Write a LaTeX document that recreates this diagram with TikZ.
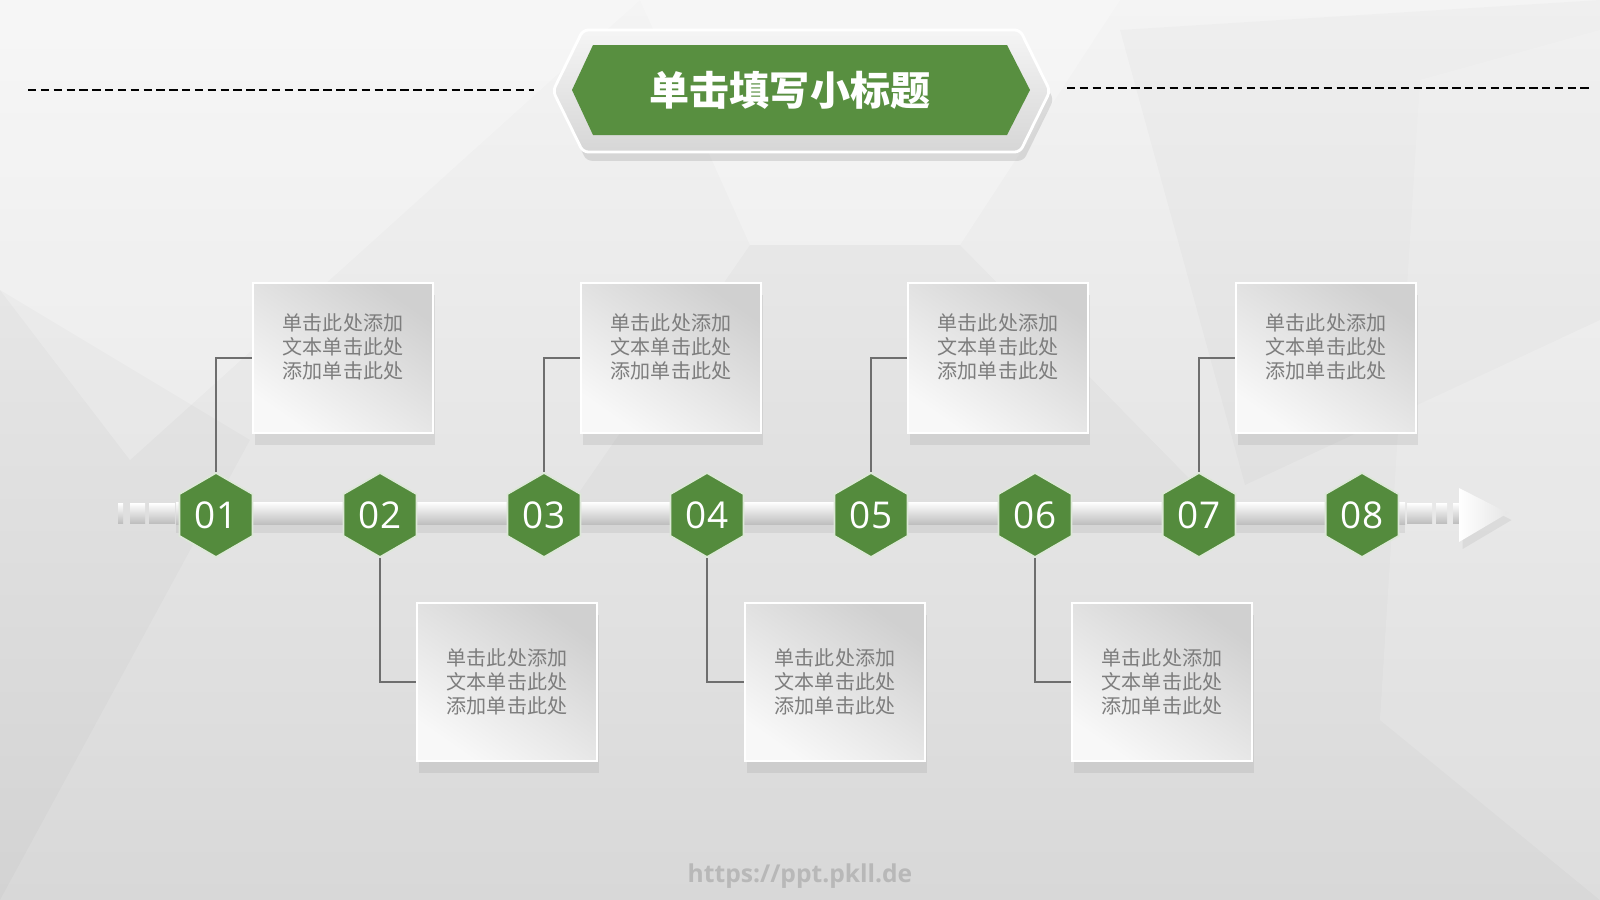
\documentclass[tikz,border=0pt]{standalone}
\usepackage{fontspec}
\setmainfont{Open Sans}
\newfontfamily\cjk{Noto Sans CJK SC}
\usetikzlibrary{shapes.geometric,shadows,positioning}
\definecolor{hexgreen}{RGB}{84,139,61}
\definecolor{titlegreen}{RGB}{88,143,64}
\definecolor{boxdark}{RGB}{208,208,208}
\definecolor{boxlight}{RGB}{248,248,248}
\definecolor{bgtop}{RGB}{244,244,244}
\definecolor{bgbot}{RGB}{216,216,216}
\definecolor{txtgray}{RGB}{125,125,125}
\definecolor{markgray}{RGB}{184,184,184}
\definecolor{linegray}{RGB}{110,110,110}

\tikzset{
  hexnode/.style={regular polygon, regular polygon sides=6, shape border rotate=30,
    minimum size=0.84cm, inner sep=0pt, fill=hexgreen, draw=white!80!hexgreen,
    line width=0.5pt, text=white, font=\fontsize{10.5}{12}\selectfont},
  infobox/.style={draw=white, line width=0.5pt, minimum width=1.8cm, inner sep=0pt,
    top color=boxdark, bottom color=boxlight, shading angle=-35,
    drop shadow={opacity=0.16, shadow xshift=0.5pt, shadow yshift=-3.5pt}},
  topbox/.style={infobox, minimum height=1.5cm},
  lowbox/.style={infobox, minimum height=1.58cm},
  infotext/.style={align=center, text=txtgray, font=\cjk\fontsize{5.7}{6.9}\selectfont},
  connline/.style={draw=linegray, line width=0.3pt},
  dashline/.style={draw=black, line width=0.55pt, dash pattern=on 2.4pt off 1.25pt},
  barpart/.style={top color=white, middle color=white, bottom color=black!25},
  facetlight/.style={fill=white, opacity=0.25},
  facetdark/.style={fill=black, opacity=0.02}
}

\begin{document}
\begin{tikzpicture}[x=0.01cm, y=-0.01cm]
\useasboundingbox (0,0) rectangle (1600,900);
\shade[top color=bgtop, bottom color=bgbot] (0,0) rectangle (1600,900);

% background facets
\fill[facetlight] (0,0) -- (640,0) -- (130,460) -- (0,290) -- cycle;
\fill[facetlight] (640,0) -- (1120,0) -- (960,245) -- (750,245) -- cycle;
\fill[facetdark] (1120,30) -- (1600,0) -- (1600,320) -- (1245,485) -- cycle;
\fill[facetdark] (0,290) -- (250,440) -- (0,900) -- cycle;
\fill[facetdark] (750,245) -- (960,245) -- (1230,520) -- (560,520) -- cycle;
\fill[facetlight, opacity=0.15] (1420,80) -- (1600,30) -- (1600,900) -- (1380,720) -- cycle;

% title
\coordinate (dl1) at (28,90);
\coordinate (dl2) at (534,90);
\coordinate (dr1) at (1067,88);
\coordinate (dr2) at (1592,88);
\draw[dashline] (dl1) -- (dl2);
\draw[dashline] (dr1) -- (dr2);
\shade[top color=white!96!black, bottom color=black!16, draw=white, line width=0.8pt,
  rounded corners=1.5pt, drop shadow={opacity=0.22, shadow xshift=1pt, shadow yshift=-2.5pt}]
  (553,91) -- (583,30) -- (1020,30) -- (1050,91) -- (1020,152) -- (583,152) -- cycle;
\fill[titlegreen] (572,90) -- (593,45) -- (1007,45) -- (1030,90) -- (1007,135) -- (593,135) -- cycle;
\node[text=white, font=\cjk\bfseries\fontsize{11.4}{13}\selectfont] (title) at (790,90) {单击填写小标题};

% timeline bar
\shade[barpart, drop shadow={opacity=0.14, shadow xshift=0pt, shadow yshift=-2.5pt}]
  (176,502) rectangle (1405,524);
\shade[barpart] (118,503) rectangle (123,523);
\shade[barpart] (130,503) rectangle (145,523);
\shade[barpart] (149,503) rectangle (175,523);
\shade[barpart] (1407,503) rectangle (1432,523);
\shade[barpart] (1436,503) rectangle (1447,523);
\shade[barpart] (1453,503) rectangle (1459,523);
\shade[left color=white, right color=black!10, drop shadow={opacity=0.12, shadow xshift=1pt, shadow yshift=-2pt}]
  (1459,488) -- (1508,513) -- (1459,542) -- cycle;

% boxes
\node[topbox] (b1) at (343,358) {};
\node[lowbox] (b2) at (507,682) {};
\node[topbox] (b3) at (671,358) {};
\node[lowbox] (b4) at (835,682) {};
\node[topbox] (b5) at (998,358) {};
\node[lowbox] (b6) at (1162,682) {};
\node[topbox] (b7) at (1326,358) {};

\node[infotext] (t1) at (343,347) {单击此处添加\\文本单击此处\\添加单击此处};
\node[infotext] (t2) at (507,682) {单击此处添加\\文本单击此处\\添加单击此处};
\node[infotext] (t3) at (671,347) {单击此处添加\\文本单击此处\\添加单击此处};
\node[infotext] (t4) at (835,682) {单击此处添加\\文本单击此处\\添加单击此处};
\node[infotext] (t5) at (998,347) {单击此处添加\\文本单击此处\\添加单击此处};
\node[infotext] (t6) at (1162,682) {单击此处添加\\文本单击此处\\添加单击此处};
\node[infotext] (t7) at (1326,347) {单击此处添加\\文本单击此处\\添加单击此处};

% hexagons
\node[hexnode] (h1) at (216,515) {01};
\node[hexnode] (h2) at (380,515) {02};
\node[hexnode] (h3) at (544,515) {03};
\node[hexnode] (h4) at (707,515) {04};
\node[hexnode] (h5) at (871,515) {05};
\node[hexnode] (h6) at (1035,515) {06};
\node[hexnode] (h7) at (1199,515) {07};
\node[hexnode] (h8) at (1362,515) {08};

\draw[connline] (h1.north) |- (b1.west);
\draw[connline] (h2.south) |- (b2.west);
\draw[connline] (h3.north) |- (b3.west);
\draw[connline] (h4.south) |- (b4.west);
\draw[connline] (h5.north) |- (b5.west);
\draw[connline] (h6.south) |- (b6.west);
\draw[connline] (h7.north) |- (b7.west);

\node[text=markgray, font=\bfseries\fontsize{7}{8}\selectfont] (wm) at (800,876) {https://ppt.pkll.de};
\end{tikzpicture}
\end{document}
